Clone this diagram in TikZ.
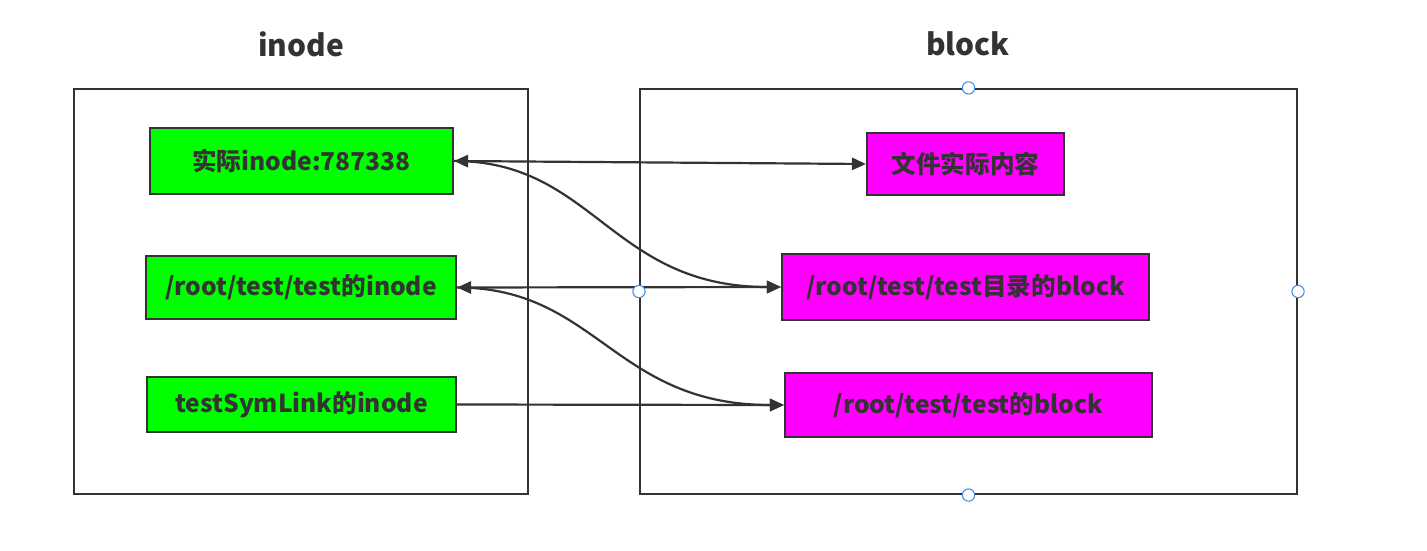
\documentclass[tikz,border=0pt]{standalone}
\usepackage{fontspec}
\setmainfont{Noto Sans CJK SC}
\usetikzlibrary{arrows.meta,positioning}
\definecolor{ink}{HTML}{333333}
\definecolor{handle}{HTML}{3A8EE6}
\definecolor{inodegreen}{HTML}{00FF00}
\definecolor{blockpink}{HTML}{FF00FF}
\begin{document}
\begin{tikzpicture}[
  x=0.02cm, y=-0.02cm,
  >={Triangle[length=8pt,width=7pt]},
  line width=1.25pt,
  basic/.style  = {draw=ink, rectangle, inner sep=0pt, text=ink, font=\fontsize{14}{16}\selectfont\bfseries},
  frame/.style  = {draw=ink, rectangle, inner sep=0pt},
  title/.style  = {text=ink, font=\fontsize{17}{20}\selectfont\bfseries},
  inode/.style  = {basic, fill=inodegreen},
  block/.style  = {basic, fill=blockpink},
  link/.style   = {draw=ink, line width=1.25pt},
  handle/.style = {circle, draw=handle, fill=white, line width=0.6pt, inner sep=0pt, minimum size=7pt}]

  \useasboundingbox (0,0) rectangle (1427,551);

  % the two frames with their titles
  \node[frame, minimum width=9.08cm, minimum height=8.1cm] (inodebox) at (301,291.5) {};
  \node[frame, minimum width=13.14cm, minimum height=8.1cm] (blockbox) at (968.5,291.5) {};
  \node[title] (inodetitle) at (301,44) {inode};
  \node[title] (blocktitle) at (968,44) {block};

  % inodes, left column
  \node[inode, minimum width=6.06cm, minimum height=1.32cm] (i1) at (301.5,161) {实际inode:787338};
  \node[inode, minimum width=6.2cm, minimum height=1.26cm] (i2) at (301,287.5) {/root/test/test的inode};
  \node[inode, minimum width=6.18cm, minimum height=1.1cm] (i3) at (301.5,404.5) {testSymLink的inode};

  % blocks, right column
  \node[block, minimum width=3.94cm, minimum height=1.24cm] (b1) at (965.5,164) {文件实际内容};
  \node[block, minimum width=7.34cm, minimum height=1.32cm] (b2) at (965.5,287) {/root/test/test目录的block};
  \node[block, minimum width=7.34cm, minimum height=1.28cm] (b3) at (968.5,405) {/root/test/test的block};

  % straight links between the rows
  \draw[link, <->] (i1.east) -- (b1.west);
  \draw[link, <->] (i2.east) -- (b2.west);
  \draw[link, ->] (i3.east) -- (b3.west);

  % curved links down one row
  \foreach \a/\b in {1/2, 2/3}
    \draw[link, ->] (i\a.east) .. controls +(140,0) and +(-170,0) .. (b\b.west);

  % selection handles of the block frame
  \foreach \side in {north, west, east, south}
    \node[handle] at (blockbox.\side) {};
\end{tikzpicture}
\end{document}
